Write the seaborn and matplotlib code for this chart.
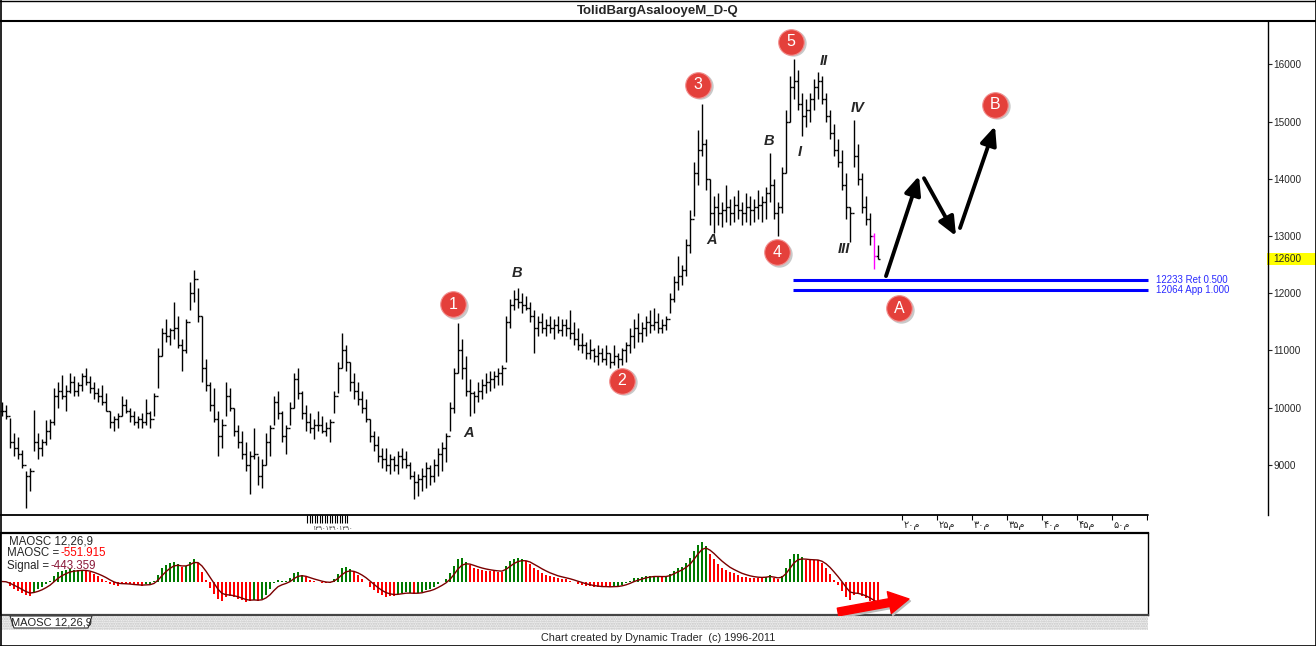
import numpy as np
import pandas as pd
import seaborn as sns
import matplotlib.pyplot as plt
import matplotlib.transforms as mtransforms
from matplotlib.lines import Line2D
from matplotlib.patches import Rectangle, Polygon

sns.set_style('white')
plt.rcParams['font.family'] = ['Liberation Sans', 'DejaVu Sans']

W, H = 1316, 646

# Daily OHLC (one value per two sessions)
highs = [10100, 10050, 9820, 9550, 9480, 9260, 8900, 8950, 9960, 9550,
         9450, 9780, 9800, 10350, 10450, 10570, 10400, 10600, 10550, 10450,
         10600, 10700, 10550, 10450, 10350, 10400, 10250, 9950, 9850, 9900,
         10200, 10150, 10000, 9950, 9850, 9900, 10150, 9950, 10250, 11050,
         11400, 11550, 11400, 11850, 11600, 11200, 11550, 12200, 12400, 12100,
         11600, 10850, 10450, 10350, 9950, 9800, 10450, 10350, 10000, 9700,
         9600, 9400, 9250, 9650, 9150, 9100, 9550, 9700, 10200, 10300,
         9950, 9700, 10100, 10600, 10700, 10300, 10050, 9900, 9800, 9950,
         9850, 9750, 9800, 10300, 10800, 11300, 11100, 10800, 10600, 10450,
         10300, 10150, 9800, 9600, 9500, 9300, 9300, 9200, 9150, 9250,
         9300, 9250, 9050, 8900, 8850, 8950, 9050, 9000, 9100, 9300,
         9400, 9550, 10100, 10700, 11480, 11200, 10900, 10500, 10300, 10450,
         10500, 10600, 10650, 10650, 10700, 10750, 11600, 11900, 12050, 12100,
         12000, 11950, 11850, 11700, 11600, 11650, 11550, 11600, 11550, 11600,
         11550, 11550, 11700, 11500, 11400, 11300, 11150, 11200, 11050, 11100,
         11050, 11100, 10950, 11100, 10950, 11050, 11150, 11400, 11550, 11650,
         11500, 11600, 11700, 11750, 11650, 11550, 11600, 12000, 12300, 12650,
         12500, 12950, 13450, 14300, 14850, 15300, 14700, 14000, 13700, 13750,
         13600, 13900, 13650, 13700, 13800, 13600, 13750, 13700, 13650, 13800,
         13700, 13850, 14450, 14000, 13600, 14200, 15200, 15800, 16090, 15900,
         15500, 15400, 15500, 15750, 15860, 15800, 15500, 15200, 14950, 14700,
         14500, 14100, 13500, 15030, 14600, 14100, 13700, 13400, 13050, 12850]
lows = [9850, 9800, 9300, 9150, 9100, 8950, 8250, 8550, 9250, 9100,
        9150, 9350, 9450, 9700, 10000, 10150, 9950, 10250, 10200, 10200,
        10300, 10400, 10250, 10150, 10100, 10050, 9950, 9650, 9600, 9650,
        9850, 9900, 9750, 9700, 9650, 9650, 9700, 9650, 9850, 10350,
        10900, 11150, 11100, 11200, 11050, 10650, 10950, 11700, 11850, 11500,
        10450, 10300, 9950, 9750, 9150, 9300, 9850, 9950, 9500, 9300,
        9100, 8900, 8500, 9100, 8650, 8600, 9000, 9150, 9700, 9800,
        9400, 9200, 9700, 10000, 10150, 9800, 9600, 9550, 9450, 9600,
        9550, 9500, 9400, 9900, 10250, 10700, 10650, 10300, 10150, 10050,
        9900, 9750, 9400, 9250, 9050, 8950, 8900, 8850, 8900, 8850,
        8950, 8950, 8750, 8400, 8450, 8550, 8600, 8650, 8700, 8800,
        8900, 9050, 9600, 9900, 10600, 10500, 10200, 9850, 9900, 10100,
        10150, 10250, 10300, 10350, 10400, 10400, 10800, 11400, 11700, 11750,
        11650, 11700, 11500, 10950, 11250, 11300, 11250, 11300, 11200, 11300,
        11250, 11250, 11200, 11100, 11000, 10950, 10850, 10850, 10800, 10750,
        10800, 10750, 10700, 10750, 10700, 10750, 10800, 10950, 11050, 11150,
        11150, 11250, 11300, 11350, 11300, 11300, 11350, 11650, 11850, 12050,
        12150, 12300, 12700, 13350, 13900, 14400, 13800, 13200, 13050, 13200,
        13150, 13250, 13200, 13250, 13300, 13200, 13250, 13200, 13250, 13300,
        13250, 13300, 13600, 13300, 13000, 13400, 14100, 15000, 15400, 15200,
        14750, 14900, 15000, 15200, 15400, 15300, 15000, 14700, 14400, 14200,
        13800, 13300, 12900, 14200, 13900, 13400, 13200, 12850, 12420, 12600]
closes = [9950, 9850, 9400, 9300, 9200, 9000, 8800, 8900, 9400, 9300,
          9400, 9600, 9750, 10200, 10300, 10200, 10300, 10450, 10300, 10400,
          10550, 10450, 10350, 10250, 10200, 10100, 9950, 9750, 9800, 9850,
          10050, 9950, 9850, 9750, 9800, 9750, 9900, 9800, 10200, 10900,
          11300, 11250, 11350, 11400, 11100, 11000, 11500, 12000, 12250, 11600,
          10700, 10400, 10050, 9800, 9500, 9700, 10200, 10000, 9600, 9400,
          9200, 9000, 9150, 9200, 8800, 9000, 9400, 9650, 10100, 9900,
          9500, 9650, 10000, 10500, 10250, 9900, 9750, 9650, 9700, 9700,
          9600, 9650, 9750, 10200, 10700, 11000, 10800, 10450, 10300, 10150,
          10000, 9800, 9500, 9350, 9150, 9100, 9000, 9100, 9000, 9150,
          9100, 9000, 8800, 8700, 8750, 8800, 8950, 8800, 9000, 9200,
          9300, 9500, 10000, 10600, 11000, 10700, 10300, 10250, 10200, 10300,
          10400, 10450, 10500, 10550, 10600, 10700, 11500, 11800, 11900, 11850,
          11800, 11750, 11600, 11400, 11500, 11400, 11450, 11400, 11450, 11350,
          11450, 11400, 11300, 11200, 11100, 11100, 10950, 11000, 10900, 10950,
          10850, 10950, 10800, 10900, 10850, 11000, 11100, 11250, 11400, 11300,
          11400, 11500, 11450, 11500, 11400, 11450, 11550, 11900, 12200, 12300,
          12400, 12850, 13300, 14100, 14500, 14600, 14000, 13400, 13500, 13400,
          13450, 13500, 13400, 13550, 13450, 13400, 13500, 13450, 13500, 13550,
          13600, 13750, 13900, 13400, 13500, 14100, 15000, 15600, 15700, 15300,
          15100, 15200, 15400, 15600, 15700, 15400, 15100, 14800, 14500, 14300,
          13900, 13500, 13400, 14400, 14000, 13500, 13300, 13000, 12650, 12600]
current_bar = 218
sessions_per_bar = 2

title = 'TolidBargAsalooyeM_D-Q'
price_ticks = [9000, 10000, 11000, 12000, 13000, 14000, 15000, 16000]
last_price = 12600

fib_levels = [12233, 12064]
fib_labels = ['12233 Ret 0.500', '12064 App 1.000']
fib_start = 197.75

circle_labels = ['1', '2', '3', '4', '5', 'A', 'B']
circle_bar = [112.75, 155, 174, 193.75, 197.25, 224.25, 248.25]
circle_price = [11810, 10470, 15640, 12720, 16390, 11740, 15290]

letter_labels = ['A', 'B', 'A', 'B', 'I', 'II', 'III', 'IV']
letter_bar = [116.75, 128.75, 177.5, 191.75, 199.5, 205.5, 210.5, 214]
letter_price = [9560, 12350, 12930, 14660, 14470, 16060, 12770, 15240]

# projected path (start bar, start price, end bar, end price)
proj_arrows = [(221, 12300, 229.25, 14050),
               (230.5, 14010, 238.5, 13000),
               (239.5, 13140, 248.25, 14920)]

date_ticks = [225, 233.75, 242.5, 251.25, 260, 268.75, 277.5, 286.25]
date_labels = ['۲۰م', '۲۵م', '۳۰م', '۳۵م', '۴۰م', '۴۵م', '۵۰م', '']

maosc_text = '-551.915'
signal_text = '-443.359'


def px_box(x0, y0, x1, y1):
    return [x0 / W, 1 - y1 / H, (x1 - x0) / W, (y1 - y0) / H]


def fig_line(x0, y0, x1, y1, lw=1.0, color='black'):
    fig.add_artist(Line2D([x0 / W, x1 / W], [1 - y0 / H, 1 - y1 / H],
                          transform=fig.transFigure, color=color, lw=lw))


fig = plt.figure(figsize=(W / 100, H / 100), dpi=100)
fig.patch.set_facecolor('white')

# ---- price panel
ax = fig.add_axes(px_box(0, 22, 1268, 515))
bar_x = np.arange(len(highs))
bar_colors = ['#ff00ff' if i == current_bar else 'black' for i in bar_x]
opens = [closes[0]] + closes[:-1]
ax.vlines(bar_x, lows, highs, colors=bar_colors, lw=1.0)
ax.hlines(opens, bar_x - 0.5, bar_x, colors=bar_colors, lw=1.0)
ax.hlines(closes, bar_x, bar_x + 0.5, colors=bar_colors, lw=1.0)
ax.set_xlim(-0.5, 316.5)
ax.set_ylim(8126, 16739)
ax.set_xticks([])
ax.yaxis.tick_right()
ax.set_yticks(price_ticks)
ax.set_yticklabels([str(t) for t in price_ticks])
ax.tick_params(axis='y', direction='out', length=3, width=0.8, labelsize=7.2, pad=1, right=True)
for side in ['left', 'top', 'bottom']:
    ax.spines[side].set_visible(False)
ax.spines['right'].set_linewidth(1.0)
ax.spines['right'].set_color('black')

# last price box
blend = mtransforms.blended_transform_factory(ax.transAxes, ax.transData)
ax.add_patch(Rectangle((0.999, last_price - 105), W / 1268 - 0.999, 210, transform=blend,
                       facecolor='#ffff00', edgecolor='none', clip_on=False, zorder=1))
ax.text(1.004, last_price, str(last_price), transform=blend, fontsize=7.2,
        va='center', ha='left', clip_on=False, zorder=2)

# fib levels
ax.hlines(fib_levels, fib_start, 286.5, color='#0000ff', lw=2.2)
for lvl, lab in zip(fib_levels, fib_labels):
    ax.text(288.6, lvl, lab, color='#2a2aff', fontsize=7, va='center', ha='left')

# wave count circles
shadow = mtransforms.offset_copy(ax.transData, fig=fig, x=1.5, y=-1.5, units='dots')
ax.scatter(circle_bar, circle_price, s=360, color='#c9c9c9', lw=0, transform=shadow, zorder=4)
ax.scatter(circle_bar, circle_price, s=340, color='#e4403b', edgecolor='#f29090', lw=0.8, zorder=5)
for b, p, t in zip(circle_bar, circle_price, circle_labels):
    ax.text(b, p, t, color='white', fontsize=11.5, ha='center', va='center', zorder=6)

for b, p, t in zip(letter_bar, letter_price, letter_labels):
    ax.text(b, p, t, fontsize=10.5, fontweight='bold', fontstyle='italic',
            ha='center', va='center', zorder=6)

for sb, sp, eb, ep in proj_arrows:
    ax.annotate('', xy=(eb, ep), xytext=(sb, sp),
                arrowprops=dict(arrowstyle='-|>,head_length=0.8,head_width=0.35',
                                lw=2.8, color='black', mutation_scale=14,
                                shrinkA=0, shrinkB=0))

# ---- date strip
axd = fig.add_axes(px_box(0, 515, 1148, 533))
axd.set_xlim(-0.5, 286.5)
axd.set_ylim(0, 1)
axd.axis('off')
axd.vlines(date_ticks, 0.7, 1.0, color='black', lw=0.8)
for t, lab in zip(date_ticks, date_labels):
    axd.text(t + 0.35, 0.42, lab, fontsize=7, family=['DejaVu Sans'], va='center', ha='left')
cluster = np.linspace(76.3, 86.3, 17)
axd.vlines(cluster, 0.55, 1.0, color='black', lw=0.8)
axd.text(77.5, 0.25, '۱۳۹۰۱۳۹۰۱۳۹۰', fontsize=4.5, family=['DejaVu Sans'], va='center', ha='left', color='#333333')

# ---- MAOSC panel
axm = fig.add_axes(px_box(0, 533, 1148, 615))
s = pd.Series(closes, dtype=float)
fast = s.ewm(span=12 / sessions_per_bar, adjust=False).mean()
slow = s.ewm(span=26 / sessions_per_bar, adjust=False).mean()
osc = fast - slow
signal = osc.ewm(span=9 / sessions_per_bar, adjust=False).mean()
hist_colors = np.where(osc >= signal, '#007a00', '#ff0000')
axm.bar(bar_x, osc, width=0.55, color=hist_colors, lw=0)
sns.lineplot(x=bar_x, y=signal.values, ax=axm, color='#7a0000', lw=1.0)
axm.set_xlim(-0.5, 286.5)
axm.set_ylim(-670, 970)
axm.set_xticks([])
axm.set_yticks([])
for sp in axm.spines.values():
    sp.set_color('black')
    sp.set_linewidth(1.0)
axm.spines['top'].set_linewidth(1.6)
axm.spines['bottom'].set_linewidth(1.6)
axm.spines['bottom'].set_color('#444444')

axm.text(0.008, 0.894, 'MAOSC 12,26,9', transform=axm.transAxes, fontsize=8.3, va='center')
t1 = axm.text(0.006, 0.756, 'MAOSC =', transform=axm.transAxes, fontsize=8.3, va='center')
axm.annotate(maosc_text, xy=(1, 0.5), xycoords=t1, xytext=(1, 0), textcoords='offset points',
             fontsize=8.3, va='center', color='#ff0000')
t2 = axm.text(0.006, 0.601, 'Signal =', transform=axm.transAxes, fontsize=8.3, va='center')
axm.annotate(signal_text, xy=(1, 0.5), xycoords=t2, xytext=(1, 0), textcoords='offset points',
             fontsize=8.3, va='center', color='#8b1a3a')

shadow_m = mtransforms.offset_copy(axm.transData, fig=fig, x=1.5, y=-2, units='dots')
for tr, col in [(shadow_m, '#bbbbbb'), (axm.transData, '#ff0000')]:
    axm.annotate('', xy=(226.75, -350), xytext=(209, -610), xycoords=tr, textcoords=tr,
                 arrowprops=dict(arrowstyle='simple,head_length=0.9,head_width=1.0,tail_width=0.35',
                                 color=col, mutation_scale=16, shrinkA=0, shrinkB=0),
                 annotation_clip=False)

# ---- tab strip
axt = fig.add_axes(px_box(0, 616, 1148, 630))
axt.set_xlim(0, 1148)
axt.set_ylim(630, 616)
axt.axis('off')
axt.add_patch(Rectangle((0, 616), 1148, 14, facecolor='#eeeeee', edgecolor='#c4c4c4',
                        hatch='.......', lw=0))
axt.add_patch(Polygon([(10, 616), (14, 628), (88, 628), (92, 616)], closed=True,
                      facecolor='white', edgecolor='#333333', lw=0.8))
axt.text(51, 622.5, 'MAOSC 12,26,9', fontsize=8, ha='center', va='center')

# ---- titles and frame
fig.text(658 / W, 1 - 11 / H, title, ha='center', va='center', fontsize=9.5, fontweight='bold')
fig.text(658 / W, 1 - 638 / H, 'Chart created by Dynamic Trader  (c) 1996-2011',
         ha='center', va='center', fontsize=7.8)

fig_line(0, 21, W, 21, lw=1.5)
fig_line(0, 515, 1148, 515, lw=1.3)
fig_line(0, 0.5, W, 0.5, lw=1.0)
fig_line(0, 645.5, W, 645.5, lw=1.2)
fig_line(0.5, 0, 0.5, H, lw=1.2)
fig_line(1315.5, 0, 1315.5, H, lw=1.2)

fig.savefig('out.png', dpi=100)
